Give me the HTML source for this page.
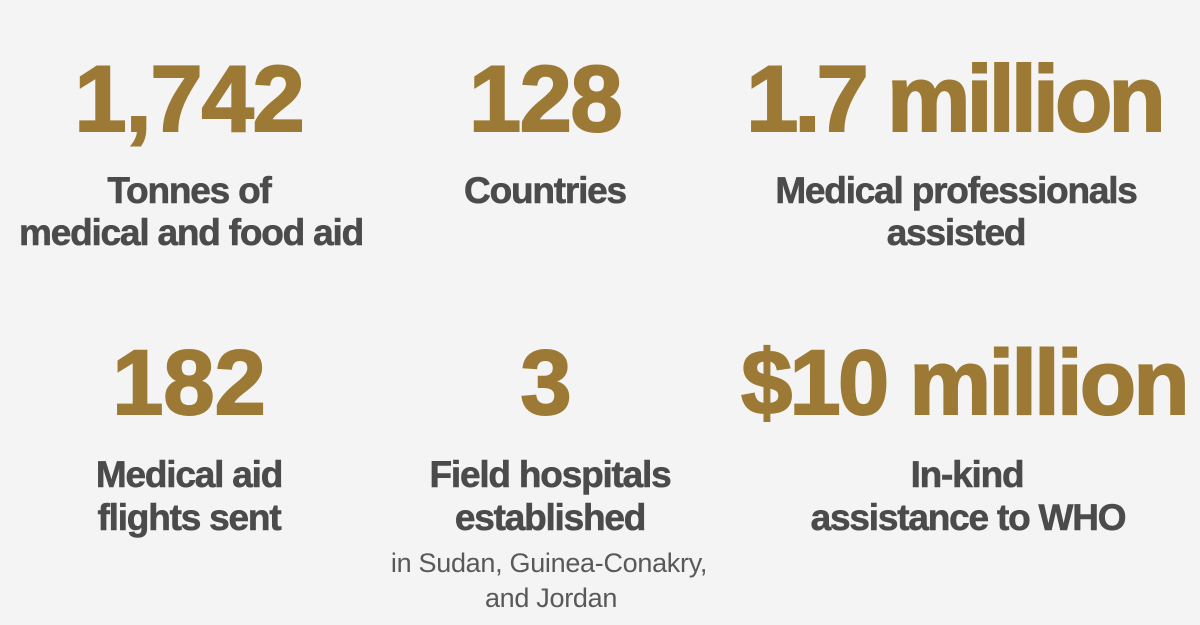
<!DOCTYPE html>
<html>
<head>
<meta charset="utf-8">
<style>
  html, body { margin:0; padding:0; }
  body { width:1200px; height:625px; background:#f4f4f4; position:relative; overflow:hidden;
         font-family:"Liberation Sans", sans-serif; }
  .t { position:absolute; width:600px; text-align:center; white-space:nowrap; }
  .num { color:#9c7a35; font-weight:bold; -webkit-text-stroke:2px #9c7a35; }
  .r1 { font-size:94px; line-height:94px; top:52px; }
  .r2 { font-size:92px; line-height:92px; top:337px; }
  .lab { color:#4b4b4b; font-weight:bold; font-size:37px; line-height:37px; letter-spacing:-1.2px; -webkit-text-stroke:0.6px #4b4b4b; }
  .sub { color:#595959; font-size:27px; line-height:27px; letter-spacing:-0.3px; }
</style>
</head>
<body>
  <!-- Row 1 numbers -->
  <div class="t num r1" style="left:-111px; letter-spacing:-1.2px;">1,742</div>
  <div class="t num r1" style="left:245px; letter-spacing:-1.5px;">128</div>
  <div class="t num r1" style="left:654px; letter-spacing:-4px;">1.7 million</div>

  <!-- Row 1 labels -->
  <div class="t lab" style="left:-111px; top:172px;">Tonnes of</div>
  <div class="t lab" style="left:-109px; top:214px;">medical and food aid</div>
  <div class="t lab" style="left:245px; top:172px;">Countries</div>
  <div class="t lab" style="left:656px; top:172px;">Medical professionals</div>
  <div class="t lab" style="left:656px; top:214px;">assisted</div>

  <!-- Row 2 numbers -->
  <div class="t num r2" style="left:-111px;">182</div>
  <div class="t num r2" style="left:246px;">3</div>
  <div class="t num r2" style="left:664px; letter-spacing:-2.7px;">$10 million</div>

  <!-- Row 2 labels -->
  <div class="t lab" style="left:-111px; top:456px;">Medical aid</div>
  <div class="t lab" style="left:-111px; top:499px;">flights sent</div>
  <div class="t lab" style="left:250px; top:456px;">Field hospitals</div>
  <div class="t lab" style="left:250px; top:499px;">established</div>
  <div class="t sub" style="left:249px; top:550px;">in Sudan, Guinea-Conakry,</div>
  <div class="t sub" style="left:251px; top:585px;">and Jordan</div>
  <div class="t lab" style="left:667px; top:456px;">In-kind</div>
  <div class="t lab" style="left:668px; top:499px;">assistance to WHO</div>
</body>
</html>
